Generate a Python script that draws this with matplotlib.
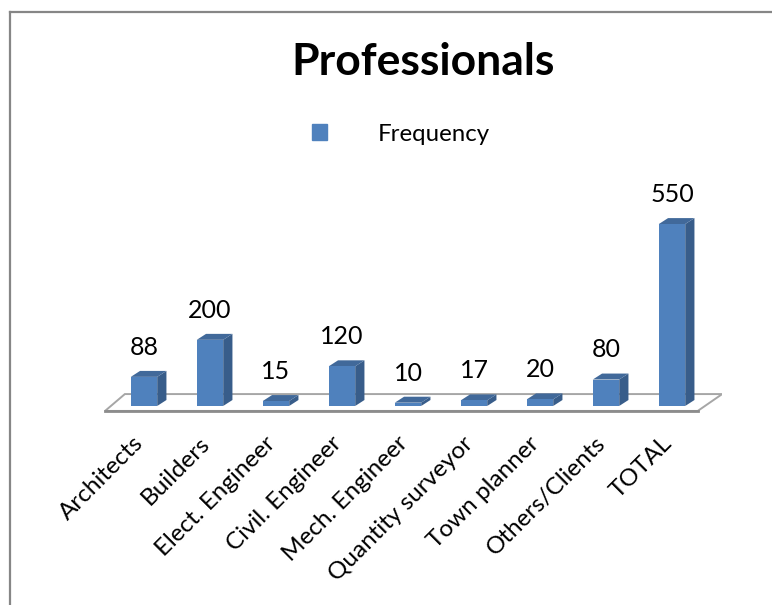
import matplotlib.pyplot as plt
from matplotlib.patches import Polygon, Patch
from matplotlib.lines import Line2D
from matplotlib.transforms import ScaledTranslation

plt.rcParams['font.family'] = ['Lato', 'DejaVu Sans']

# ── Datos ─────────────────────────────────────────────
categorias = ["Architects", "Builders", "Elect. Engineer", "Civil. Engineer",
              "Mech. Engineer", "Quantity surveyor", "Town planner",
              "Others/Clients", "TOTAL"]
frecuencia = [88, 200, 15, 120, 10, 17, 20, 80, 550]
serie = "Frequency"
titulo = "Professionals"

# colores estilo Excel 2007
c_frente = "#4F81BD"
c_lado = "#385D8A"
c_tope = "#41699A"

fig = plt.figure(figsize=(7.72, 6.05), dpi=100)
ax = fig.add_axes([0.1224, 0.3071, 0.8122, 0.3499])
ax.set_xlim(-0.75, 8.75)
ax.set_ylim(-40, 600)

# efecto 3D: profundidad en unidades de datos
ancho = 0.2
dx, dy = 0.14, 18

# piso
piso = Polygon([(-0.59, -15), (8.39, -15), (8.76, 36), (-0.29, 36)],
               closed=True, facecolor="white", edgecolor="#A6A6A6",
               linewidth=1.4, zorder=1)
ax.add_patch(piso)
ax.plot([-0.59, 8.39], [-15, -15], color="#8C8C8C", linewidth=2, zorder=1)

for i, v in enumerate(frecuencia):
    x0, x1 = i - ancho, i + ancho
    lado = Polygon([(x1, 0), (x1 + dx, dy), (x1 + dx, v + dy), (x1, v)],
                   closed=True, facecolor=c_lado, edgecolor="none", zorder=2)
    tope = Polygon([(x0, v), (x1, v), (x1 + dx, v + dy), (x0 + dx, v + dy)],
                   closed=True, facecolor=c_tope, edgecolor="none", zorder=2)
    ax.add_patch(lado)
    ax.add_patch(tope)
    ax.bar(i, v, width=2 * ancho, color=c_frente, zorder=3)
    ax.annotate(str(v), (i, v), xytext=(0, 13), textcoords="offset points",
                ha="center", va="bottom", fontsize=18)

ax.set_xticks(range(len(categorias)))
ax.set_xticklabels(categorias, rotation=45, ha="right", va="center",
                   rotation_mode="anchor", fontsize=17.5)
ax.tick_params(axis="x", length=0, pad=15)
ax.set_yticks([])
for s in ax.spines.values():
    s.set_visible(False)
desplaz = ScaledTranslation(-4 / 100, 0, fig.dpi_scale_trans)
for lab in ax.get_xticklabels():
    lab.set_transform(lab.get_transform() + desplaz)

# título y leyenda
fig.text(0.5486, 0.876, titulo, ha="center", va="baseline",
         fontsize=32, fontweight="bold")
ax.legend(handles=[Patch(color=c_frente, label=serie)], loc="center",
          bbox_to_anchor=(0.519, 0.7785), bbox_transform=fig.transFigure,
          frameon=False, fontsize=17.3, handlelength=0.65, handleheight=0.65,
          handletextpad=2.1)

# borde del área del gráfico
fig.add_artist(Line2D([9.5 / 772, 9.5 / 772], [0, 1 - 11.5 / 605],
                      color="#868686", linewidth=1.6))
fig.add_artist(Line2D([9.5 / 772, 1], [1 - 11.5 / 605, 1 - 11.5 / 605],
                      color="#868686", linewidth=1.6))

fig.savefig("out.png", dpi=100)
